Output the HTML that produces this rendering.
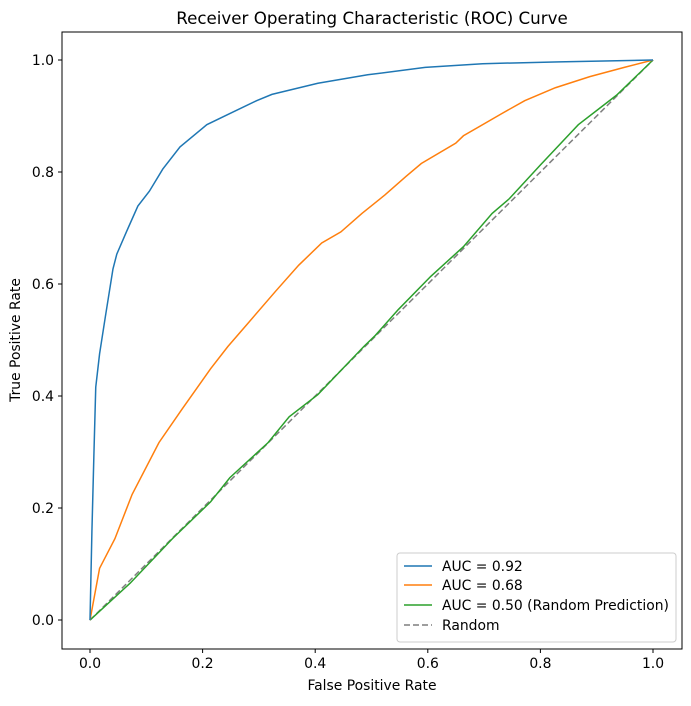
<!DOCTYPE html><html><head><style>body{margin:0;background:#fff}svg{font-family:"DejaVu Sans","Liberation Sans",sans-serif}</style></head><body>
<svg width="691" height="701" viewBox="0 0 691 701">
<rect x="62" y="32" width="620" height="617" fill="none" stroke="#000" stroke-width="1"/>
<text x="372" y="24" font-size="16.7" text-anchor="middle">Receiver Operating Characteristic (ROC) Curve</text>
<g font-size="13.9" text-anchor="middle">
<g stroke="#000"><line x1="90" y1="649" x2="90" y2="653"/><line x1="202.6" y1="649" x2="202.6" y2="653"/><line x1="315.2" y1="649" x2="315.2" y2="653"/><line x1="427.8" y1="649" x2="427.8" y2="653"/><line x1="540.4" y1="649" x2="540.4" y2="653"/><line x1="653" y1="649" x2="653" y2="653"/></g>
<text x="90" y="668">0.0</text><text x="202.6" y="668">0.2</text><text x="315.2" y="668">0.4</text><text x="427.8" y="668">0.6</text><text x="540.4" y="668">0.8</text><text x="653" y="668">1.0</text>
<text x="372" y="690">False Positive Rate</text>
</g>
<g font-size="13.9" text-anchor="end">
<g stroke="#000"><line x1="58" y1="620" x2="62" y2="620"/><line x1="58" y1="508" x2="62" y2="508"/><line x1="58" y1="396" x2="62" y2="396"/><line x1="58" y1="284" x2="62" y2="284"/><line x1="58" y1="172" x2="62" y2="172"/><line x1="58" y1="60" x2="62" y2="60"/></g>
<text x="54" y="625">0.0</text><text x="54" y="513">0.2</text><text x="54" y="401">0.4</text><text x="54" y="289">0.6</text><text x="54" y="177">0.8</text><text x="54" y="65">1.0</text>
</g>
<text transform="translate(20 340) rotate(-90)" font-size="13.9" text-anchor="middle">True Positive Rate</text>
<g transform="translate(90,60) scale(0.38300,0.36969) translate(-25,-25)" fill="none" stroke-width="1.5">
<line x1="25" y1="1540" x2="1495" y2="25" stroke="#7f7f7f" stroke-dasharray="6,3" vector-effect="non-scaling-stroke"/>
<polyline vector-effect="non-scaling-stroke" stroke="#2ca02c" points="25,1540 130,1440 240,1320 340,1220 390,1155 490,1060 545,990 620,930 740,800 770,770 830,700 915,610 1000,530 1075,440 1120,400 1200,310 1300,200 1400,120 1495,25"/>
<polyline vector-effect="non-scaling-stroke" stroke="#ff7f0e" points="25,1540 50,1400 90,1320 135,1200 205,1060 265,970 340,860 385,800 435,740 510,650 570,580 630,520 680,490 735,440 795,390 850,340 890,305 980,250 1000,230 1100,170 1160,135 1240,100 1330,70 1420,45 1495,25"/>
<polyline vector-effect="non-scaling-stroke" stroke="#1f77b4" points="25,1540 30,1300 35,1100 40,910 50,820 65,720 85,590 95,550 120,490 150,420 180,380 215,320 260,260 330,200 390,170 460,135 500,118 620,88 750,65 900,45 1050,35 1250,30 1495,25"/>
</g>
<rect x="397" y="553" width="279" height="89" fill="#fff" stroke="#ccc" rx="3"/>
<g font-size="13.9">
<line x1="404" y1="566" x2="432" y2="566" stroke="#1f77b4" stroke-width="1.5"/><text x="442" y="571">AUC = 0.92</text>
<line x1="404" y1="585" x2="432" y2="585" stroke="#ff7f0e" stroke-width="1.5"/><text x="442" y="590">AUC = 0.68</text>
<line x1="404" y1="605" x2="432" y2="605" stroke="#2ca02c" stroke-width="1.5"/><text x="442" y="610">AUC = 0.50 (Random Prediction)</text>
<line x1="404" y1="625" x2="432" y2="625" stroke="#7f7f7f" stroke-width="1.5" stroke-dasharray="6,3"/><text x="442" y="630">Random</text>
</g>
</svg></body></html>
